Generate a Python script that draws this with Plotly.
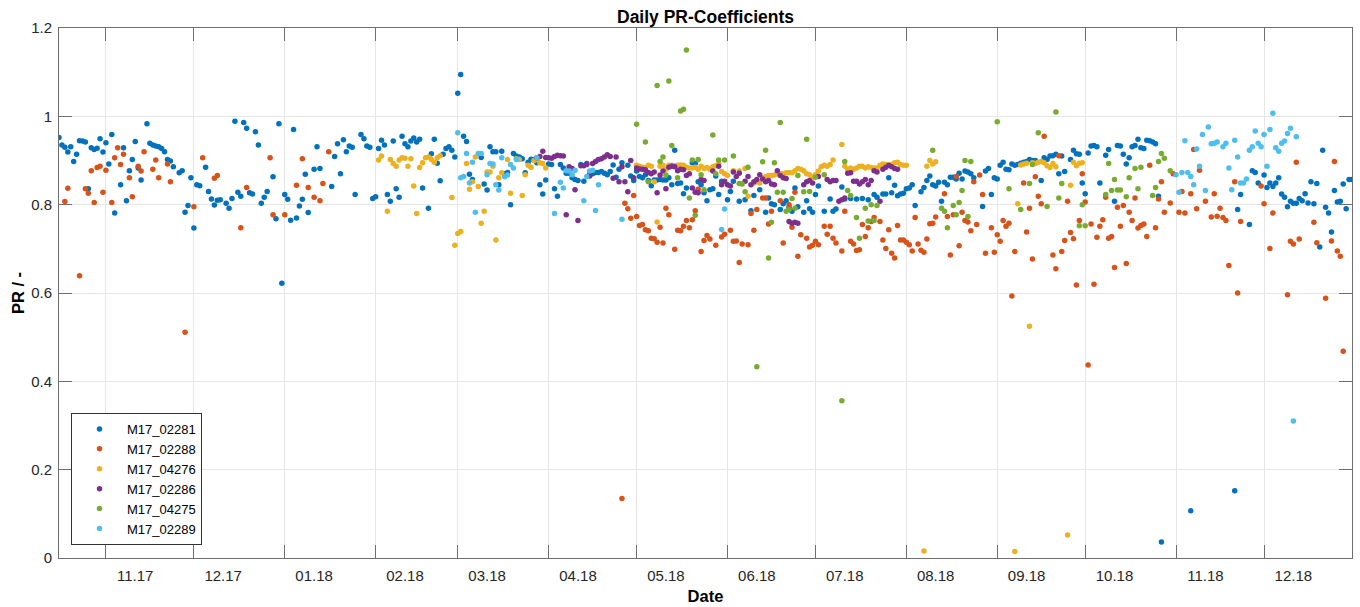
import pandas as pd
import plotly.graph_objects as go

# ---------------- data ----------------
START_DATE = "2017-10-16"          # day 0 of the day offsets below
X_RANGE = ["2017-10-16", "2018-12-31"]
TICK_LABELS = ["11.17", "12.17", "01.18", "02.18", "03.18", "04.18", "05.18",
               "06.18", "07.18", "08.18", "09.18", "10.18", "11.18", "12.18"]
SERIES_NAMES = ["M17_02281", "M17_02288", "M17_04276", "M17_02286", "M17_04275", "M17_02289"]
COLORS = ["#0072BD", "#D95319", "#EDB120", "#7E2F8E", "#77AC30", "#4DBEEE"]

# (day offset from START_DATE, PR value)
M17_02281 = [
    (0, 0.952), (1, 0.935), (2, 0.930), (3, 0.919), (4, 0.931), (5, 0.898), (6, 0.914), (7, 0.945),
    (8, 0.944), (9, 0.942), (10, 0.836), (11, 0.929), (12, 0.925), (13, 0.928), (14, 0.949), (15, 0.919),
    (16, 0.940), (17, 0.892), (18, 0.959), (19, 0.781), (21, 0.845), (22, 0.929), (23, 0.809), (24, 0.877),
    (25, 0.902), (26, 0.943), (27, 0.883), (28, 0.856), (30, 0.983), (31, 0.939), (32, 0.935), (33, 0.933),
    (34, 0.931), (35, 0.927), (36, 0.920), (37, 0.902), (38, 0.899), (39, 0.886), (41, 0.872), (42, 0.877),
    (43, 0.783), (44, 0.798), (45, 0.861), (46, 0.747), (47, 0.845), (48, 0.843), (50, 0.885), (51, 0.830),
    (52, 0.813), (53, 0.799), (54, 0.810), (55, 0.811), (57, 0.803), (58, 0.792), (59, 0.814), (60, 0.989),
    (61, 0.828), (62, 0.819), (63, 0.986), (64, 0.973), (65, 0.827), (66, 0.824), (67, 0.965), (68, 0.935),
    (69, 0.803), (70, 0.817), (71, 0.830), (73, 0.863), (74, 0.768), (75, 0.983), (76, 0.622), (77, 0.823),
    (78, 0.812), (79, 0.765), (80, 0.970), (81, 0.770), (82, 0.797), (83, 0.812), (84, 0.869), (85, 0.782),
    (87, 0.880), (88, 0.931), (89, 0.882), (93, 0.841), (94, 0.909), (95, 0.938), (96, 0.870), (97, 0.947),
    (98, 0.920), (99, 0.933), (100, 0.930), (101, 0.823), (103, 0.959), (104, 0.949), (105, 0.933),
    (106, 0.930), (107, 0.814), (108, 0.818), (109, 0.927), (110, 0.946), (111, 0.935), (112, 0.823),
    (113, 0.808), (114, 0.944), (115, 0.836), (116, 0.817), (117, 0.955), (118, 0.938), (119, 0.931),
    (120, 0.944), (121, 0.951), (122, 0.942), (123, 0.948), (124, 0.838), (126, 0.792), (127, 0.915),
    (128, 0.948), (129, 0.894), (130, 0.854), (131, 0.914), (132, 0.927), (133, 0.931), (134, 0.923),
    (135, 0.908), (136, 1.052), (137, 1.095), (138, 0.955), (139, 0.943), (140, 0.869), (141, 0.857),
    (144, 0.907), (145, 0.847), (146, 0.833), (147, 0.931), (148, 0.920), (149, 0.920), (150, 0.845),
    (151, 0.921), (152, 0.870), (153, 0.873), (154, 0.800), (155, 0.916), (156, 0.910), (157, 0.908),
    (158, 0.904), (159, 0.872), (160, 0.896), (161, 0.903), (162, 0.902), (163, 0.895), (164, 0.845),
    (165, 0.824), (166, 0.856), (167, 0.892), (168, 0.891), (169, 0.836), (170, 0.819), (171, 0.891),
    (172, 0.883), (173, 0.871), (174, 0.871), (175, 0.861), (176, 0.857), (177, 0.855), (178, 0.891),
    (179, 0.853), (180, 0.893), (181, 0.870), (182, 0.870), (183, 0.873), (184, 0.873), (185, 0.875),
    (186, 0.871), (187, 0.868), (188, 0.875), (189, 0.890), (190, 0.862), (191, 0.880), (192, 0.895),
    (194, 0.889), (195, 0.865), (196, 0.855), (197, 0.876), (198, 0.864), (199, 0.861), (200, 0.868),
    (201, 0.855), (202, 0.843), (203, 0.856), (204, 0.856), (205, 0.857), (206, 0.856), (207, 0.856),
    (208, 0.861), (209, 0.845), (210, 0.923), (211, 0.848), (212, 0.849), (213, 0.825), (214, 0.838),
    (216, 0.895), (217, 0.893), (218, 0.852), (219, 0.845), (220, 0.827), (221, 0.809), (222, 0.834),
    (223, 0.836), (224, 0.865), (225, 0.823), (226, 0.853), (228, 0.811), (229, 0.830), (230, 0.853),
    (232, 0.808), (234, 0.811), (236, 0.786), (237, 0.821), (239, 0.834), (241, 0.783), (242, 0.815),
    (243, 0.802), (244, 0.800), (246, 0.789), (247, 0.802), (248, 0.809), (249, 0.794), (250, 0.785),
    (251, 0.838), (252, 0.795), (254, 0.783), (255, 0.809), (256, 0.791), (257, 0.783), (258, 0.823),
    (259, 0.842), (261, 0.785), (263, 0.813), (264, 0.785), (265, 0.790), (267, 0.840), (268, 0.813),
    (270, 0.814), (272, 0.813), (274, 0.814), (276, 0.811), (278, 0.823), (279, 0.817), (281, 0.824),
    (282, 0.824), (283, 0.861), (284, 0.827), (285, 0.844), (286, 0.820), (287, 0.824), (288, 0.826),
    (289, 0.836), (290, 0.838), (291, 0.845), (292, 0.798), (294, 0.829), (295, 0.839), (296, 0.855),
    (297, 0.865), (298, 0.845), (299, 0.842), (300, 0.851), (301, 0.808), (302, 0.851), (303, 0.845),
    (304, 0.862), (305, 0.862), (306, 0.858), (307, 0.871), (308, 0.858), (309, 0.876), (310, 0.874),
    (311, 0.870), (312, 0.861), (315, 0.796), (316, 0.876), (317, 0.882), (318, 0.823), (319, 0.861),
    (320, 0.858), (321, 0.889), (322, 0.896), (323, 0.880), (324, 0.879), (325, 0.892), (326, 0.889),
    (327, 0.891), (328, 0.894), (329, 0.896), (330, 0.898), (331, 0.902), (332, 0.900), (333, 0.900),
    (335, 0.855), (336, 0.906), (337, 0.902), (338, 0.910), (339, 0.911), (340, 0.914), (341, 0.870),
    (342, 0.910), (343, 0.875), (345, 0.902), (346, 0.923), (347, 0.915), (348, 0.914), (349, 0.849),
    (350, 0.825), (351, 0.917), (352, 0.933), (353, 0.934), (354, 0.931), (355, 0.849), (357, 0.912),
    (358, 0.925), (360, 0.808), (361, 0.934), (362, 0.933), (363, 0.914), (364, 0.892), (365, 0.906),
    (366, 0.931), (367, 0.934), (368, 0.948), (369, 0.929), (370, 0.927), (371, 0.946), (372, 0.945),
    (373, 0.942), (374, 0.938), (375, 0.819), (376, 0.036), (386, 0.107), (401, 0.152), (402, 0.789),
    (403, 0.823), (406, 0.755), (407, 0.877), (408, 0.873), (409, 0.849), (411, 0.867), (412, 0.839),
    (413, 0.849), (414, 0.841), (415, 0.849), (416, 0.861), (417, 0.824), (418, 0.817), (419, 0.795),
    (420, 0.808), (421, 0.803), (422, 0.803), (423, 0.814), (424, 0.809), (425, 0.825), (426, 0.804),
    (427, 0.852), (428, 0.802), (429, 0.848), (430, 0.704), (431, 0.923), (432, 0.794), (433, 0.781),
    (434, 0.738), (435, 0.832), (436, 0.806), (437, 0.808), (438, 0.847), (439, 0.791), (440, 0.857),
    (441, 0.857),
]

M17_02288 = [
    (2, 0.807), (3, 0.837), (7, 0.639), (9, 0.836), (10, 0.826), (11, 0.877), (12, 0.805), (13, 0.884),
    (14, 0.887), (15, 0.828), (16, 0.878), (18, 0.805), (19, 0.906), (20, 0.929), (21, 0.891), (22, 0.914),
    (24, 0.861), (25, 0.818), (27, 0.887), (28, 0.876), (29, 0.920), (32, 0.880), (33, 0.901), (34, 0.861),
    (37, 0.892), (38, 0.852), (43, 0.511), (46, 0.795), (49, 0.906), (53, 0.860), (54, 0.866), (62, 0.748),
    (64, 0.839), (72, 0.906), (73, 0.777), (77, 0.777), (81, 0.844), (83, 0.904), (85, 0.839), (87, 0.817),
    (89, 0.809), (90, 0.848), (92, 0.920), (192, 0.135),
    (193, 0.803), (194, 0.791), (195, 0.769), (196, 0.821), (197, 0.773), (198, 0.753), (199, 0.755),
    (200, 0.743), (201, 0.741), (202, 0.724), (203, 0.723), (204, 0.715), (205, 0.749), (206, 0.713),
    (207, 0.792), (208, 0.777), (210, 0.699), (211, 0.742), (212, 0.741), (213, 0.751), (214, 0.764),
    (215, 0.748), (216, 0.766), (217, 0.786), (218, 0.835), (219, 0.694), (220, 0.719), (221, 0.730),
    (222, 0.722), (224, 0.708), (226, 0.727), (227, 0.733), (229, 0.742), (230, 0.717), (231, 0.718),
    (232, 0.669), (233, 0.711), (235, 0.709), (236, 0.780), (237, 0.742), (238, 0.789), (240, 0.815),
    (241, 0.815), (242, 0.756), (243, 0.785), (246, 0.809), (247, 0.713), (249, 0.800), (250, 0.749),
    (251, 0.828), (252, 0.683), (253, 0.732), (255, 0.724), (256, 0.704), (257, 0.708), (258, 0.717),
    (259, 0.709), (261, 0.751), (262, 0.733), (263, 0.751), (264, 0.724), (265, 0.713), (267, 0.695),
    (268, 0.785), (270, 0.717), (271, 0.711), (272, 0.696), (273, 0.698), (274, 0.755), (275, 0.728),
    (276, 0.748), (277, 0.762), (278, 0.771), (280, 0.762), (281, 0.720), (282, 0.701), (283, 0.743),
    (284, 0.690), (285, 0.679), (286, 0.753), (287, 0.720), (288, 0.720), (289, 0.715), (290, 0.709),
    (291, 0.695), (292, 0.771), (293, 0.711), (294, 0.697), (295, 0.692), (296, 0.722), (297, 0.757),
    (298, 0.758), (299, 0.772), (302, 0.825), (303, 0.773), (304, 0.686), (305, 0.777), (306, 0.864),
    (307, 0.707), (308, 0.783), (309, 0.764), (310, 0.761), (311, 0.741), (312, 0.852), (313, 0.755),
    (314, 0.867), (315, 0.823), (316, 0.690), (318, 0.748), (319, 0.692), (320, 0.732), (321, 0.717),
    (322, 0.764), (323, 0.751), (324, 0.758), (325, 0.593), (326, 0.694), (329, 0.849), (330, 0.738),
    (331, 0.792), (332, 0.677), (333, 0.863), (334, 0.819), (335, 0.802), (336, 0.955), (339, 0.686),
    (340, 0.655), (341, 0.911), (342, 0.694), (343, 0.719), (344, 0.808), (345, 0.737), (346, 0.723),
    (347, 0.618), (348, 0.764), (349, 0.870), (350, 0.806), (351, 0.437), (352, 0.756), (353, 0.620),
    (354, 0.726), (355, 0.751), (356, 0.766), (357, 0.817), (358, 0.724), (359, 0.728), (360, 0.658),
    (361, 0.794), (362, 0.751), (363, 0.798), (364, 0.667), (365, 0.783), (366, 0.764), (367, 0.815),
    (368, 0.747), (369, 0.753), (370, 0.756), (371, 0.728), (372, 0.889), (374, 0.748), (375, 0.813),
    (376, 0.852), (377, 0.783), (379, 0.804), (380, 0.870), (382, 0.783), (383, 0.830), (384, 0.781),
    (386, 0.825), (387, 0.925), (388, 0.791), (389, 0.878), (391, 0.808), (393, 0.772), (394, 0.825),
    (395, 0.774), (396, 0.792), (397, 0.771), (398, 0.764), (399, 0.662), (401, 0.852), (402, 0.600),
    (403, 0.762), (410, 0.842), (411, 0.802), (413, 0.701), (414, 0.781), (419, 0.596), (420, 0.717),
    (421, 0.711), (422, 0.896), (423, 0.722), (428, 0.760), (429, 0.714), (432, 0.588), (434, 0.718),
    (435, 0.898), (436, 0.695), (437, 0.683), (438, 0.468),
]

M17_04276 = [
    (109, 0.901), (110, 0.910), (112, 0.785), (113, 0.902), (114, 0.893), (115, 0.887), (116, 0.901),
    (117, 0.906), (118, 0.905), (119, 0.887), (120, 0.904), (121, 0.842), (122, 0.780), (123, 0.884),
    (124, 0.895), (125, 0.906), (126, 0.908), (127, 0.902), (128, 0.896), (129, 0.906), (130, 0.911),
    (134, 0.816), (135, 0.708), (136, 0.735), (137, 0.739), (139, 0.893), (140, 0.835), (141, 0.852),
    (142, 0.908), (143, 0.841), (144, 0.758), (145, 0.785), (146, 0.874), (147, 0.874), (148, 0.887),
    (149, 0.720), (150, 0.861), (151, 0.872), (153, 0.902), (154, 0.826), (156, 0.904), (157, 0.902),
    (158, 0.821), (159, 0.868), (160, 0.889), (161, 0.885), (162, 0.900), (163, 0.902), (164, 0.895),
    (165, 0.893), (166, 0.883),
    (197, 0.889), (198, 0.887), (199, 0.885), (200, 0.884), (201, 0.889), (202, 0.887), (203, 0.852),
    (204, 0.761), (205, 0.887), (206, 0.889), (207, 0.880), (208, 0.889), (209, 0.889), (210, 0.888),
    (211, 0.889), (212, 0.890), (213, 0.889), (214, 0.885), (215, 0.883), (216, 0.883), (217, 0.885),
    (218, 0.880), (219, 0.887), (220, 0.882), (221, 0.884), (222, 0.880), (223, 0.886), (224, 0.888),
    (225, 0.893), (226, 0.875), (227, 0.870), (228, 0.866), (230, 0.877), (232, 0.876), (234, 0.882),
    (235, 0.819), (237, 0.849), (238, 0.852), (239, 0.849), (240, 0.861), (241, 0.863), (242, 0.866),
    (243, 0.866), (244, 0.867), (245, 0.870), (246, 0.870), (247, 0.870), (248, 0.872), (249, 0.873),
    (250, 0.872), (251, 0.877), (252, 0.882), (253, 0.880), (254, 0.877), (255, 0.870), (256, 0.868),
    (257, 0.862), (258, 0.868), (259, 0.876), (260, 0.886), (261, 0.889), (262, 0.887), (263, 0.891),
    (264, 0.901), (267, 0.936), (268, 0.887), (269, 0.880), (270, 0.883), (271, 0.880), (272, 0.883),
    (273, 0.887), (274, 0.887), (275, 0.883), (276, 0.886), (277, 0.884), (278, 0.883), (279, 0.883),
    (280, 0.889), (281, 0.892), (282, 0.891), (283, 0.889), (284, 0.891), (285, 0.895), (286, 0.896),
    (287, 0.891), (288, 0.889), (289, 0.889), (295, 0.016), (296, 0.887), (297, 0.900), (298, 0.892),
    (299, 0.897), (326, 0.015), (327, 0.802), (328, 0.890), (329, 0.892), (330, 0.894), (331, 0.525),
    (332, 0.895), (333, 0.893), (334, 0.896), (335, 0.898), (336, 0.895), (337, 0.888), (338, 0.884),
    (339, 0.893), (340, 0.886), (344, 0.052), (345, 0.844), (346, 0.896), (347, 0.888), (348, 0.894),
    (349, 0.895),
]

M17_02286 = [
    (163, 0.906), (164, 0.909), (165, 0.921), (166, 0.907), (167, 0.906), (168, 0.905), (169, 0.909),
    (170, 0.912), (171, 0.911), (172, 0.910), (173, 0.777), (174, 0.886), (175, 0.882), (176, 0.834),
    (177, 0.764), (178, 0.888), (179, 0.888), (180, 0.891), (181, 0.865), (182, 0.893), (183, 0.898),
    (184, 0.902), (185, 0.904), (186, 0.908), (187, 0.913), (188, 0.909), (189, 0.860), (190, 0.908),
    (191, 0.852), (192, 0.886), (193, 0.852), (194, 0.829), (195, 0.900), (196, 0.861), (197, 0.883),
    (198, 0.881), (199, 0.880), (200, 0.879), (201, 0.873), (202, 0.870), (203, 0.874), (204, 0.827),
    (205, 0.867), (206, 0.876), (207, 0.836), (208, 0.885), (209, 0.887), (210, 0.886), (211, 0.877),
    (212, 0.880), (213, 0.879), (214, 0.866), (215, 0.870), (216, 0.838), (217, 0.828), (218, 0.827),
    (219, 0.857), (220, 0.855), (223, 0.876), (225, 0.887), (226, 0.845), (227, 0.853), (228, 0.845),
    (229, 0.842), (230, 0.874), (231, 0.864), (232, 0.871), (234, 0.853), (235, 0.864), (236, 0.845),
    (237, 0.852), (238, 0.857), (239, 0.868), (240, 0.858), (241, 0.852), (242, 0.855), (243, 0.847),
    (244, 0.845), (245, 0.877), (246, 0.866), (247, 0.861), (248, 0.859), (249, 0.762), (250, 0.758),
    (251, 0.760), (252, 0.758), (254, 0.845), (255, 0.852), (256, 0.855), (257, 0.849), (259, 0.864),
    (262, 0.857), (263, 0.852), (264, 0.855), (265, 0.855), (266, 0.808), (267, 0.811), (268, 0.815),
    (269, 0.871), (270, 0.872), (271, 0.853), (272, 0.853), (273, 0.847), (274, 0.852), (275, 0.857),
    (276, 0.845), (277, 0.855), (278, 0.877), (279, 0.874), (280, 0.808), (281, 0.880), (282, 0.885),
    (283, 0.889), (284, 0.886), (285, 0.882), (286, 0.880),
]

M17_04275 = [
    (197, 0.982), (200, 0.942), (201, 0.852), (204, 1.070), (205, 0.898), (206, 0.908), (207, 0.867),
    (208, 1.080), (209, 0.934), (211, 0.861), (212, 1.012), (213, 1.016), (214, 1.150), (215, 0.815),
    (216, 0.901), (217, 0.776), (218, 0.902), (219, 0.868), (220, 0.834), (223, 0.958), (224, 0.870),
    (225, 0.901), (227, 0.901), (230, 0.910), (232, 0.848), (233, 0.847), (234, 0.829), (235, 0.885),
    (238, 0.433), (240, 0.897), (241, 0.923), (242, 0.679), (243, 0.760), (244, 0.895), (245, 0.828),
    (246, 0.986), (247, 0.828), (248, 0.785), (249, 0.789), (250, 0.814), (251, 0.792), (252, 0.866),
    (254, 0.829), (255, 0.948), (256, 0.830), (258, 0.862), (261, 0.868), (267, 0.356), (268, 0.898),
    (269, 0.832), (270, 0.821), (272, 0.771), (273, 0.724), (275, 0.792), (276, 0.763), (277, 0.800),
    (278, 0.764), (279, 0.798), (298, 0.923), (301, 0.792), (302, 0.785), (303, 0.748), (305, 0.798),
    (306, 0.777), (307, 0.805), (308, 0.832), (309, 0.900), (310, 0.773), (311, 0.898), (320, 0.988),
    (324, 0.836), (328, 0.789), (331, 0.848), (332, 0.891), (334, 0.963), (337, 0.796), (340, 1.010),
    (341, 0.815), (342, 0.848), (348, 0.752), (349, 0.800), (350, 0.752), (357, 0.823), (358, 0.893),
    (359, 0.832), (360, 0.857), (361, 0.833), (362, 0.833), (364, 0.818), (365, 0.861), (367, 0.882),
    (368, 0.836), (369, 0.885), (373, 0.821), (374, 0.839), (375, 0.898), (376, 0.916), (377, 0.905),
    (379, 0.877),
]

M17_02289 = [
    (136, 0.963), (137, 0.861), (138, 0.864), (139, 0.916), (140, 0.849), (141, 0.896), (142, 0.783),
    (143, 0.916), (144, 0.916), (146, 0.868), (147, 0.893), (148, 0.892), (149, 0.845), (150, 0.833),
    (151, 0.906), (152, 0.863), (153, 0.867), (154, 0.891), (155, 0.883), (156, 0.902), (163, 0.906),
    (169, 0.780), (171, 0.851), (172, 0.838), (173, 0.877), (174, 0.876), (175, 0.868), (176, 0.878),
    (179, 0.809), (180, 0.864), (181, 0.876), (182, 0.878), (183, 0.787), (184, 0.845), (192, 0.767),
    (226, 0.744), (227, 0.790),
    (381, 0.868), (382, 0.828), (383, 0.873), (384, 0.945), (385, 0.873), (386, 0.864), (387, 0.845),
    (388, 0.926), (389, 0.887), (390, 0.959), (391, 0.832), (392, 0.976), (393, 0.938), (394, 0.939),
    (395, 0.942), (397, 0.931), (398, 0.939), (399, 0.883), (400, 0.834), (401, 0.946), (402, 0.908),
    (403, 0.849), (404, 0.849), (405, 0.858), (406, 0.923), (407, 0.931), (408, 0.967), (409, 0.939),
    (410, 0.931), (411, 0.959), (412, 0.887), (413, 0.970), (414, 1.007), (415, 0.929), (416, 0.921),
    (417, 0.939), (418, 0.944), (419, 0.961), (420, 0.973), (421, 0.310), (422, 0.954),
]

SERIES_DATA = [M17_02281, M17_02288, M17_04276, M17_02286, M17_04275, M17_02289]

# ---------------- figure ----------------
FONT = "Liberation Sans, Arial, Helvetica, sans-serif"
TEXT_COLOR = "#262626"
AXIS_COLOR = "#6e6e6e"
GRID_COLOR = "#e6e6e6"

start = pd.Timestamp(START_DATE)
month_starts = pd.date_range("2017-11-01", "2018-12-01", freq="MS")
label_pos = month_starts + pd.Timedelta(days=10)

fig = go.Figure()
for name, color, pairs in zip(SERIES_NAMES, COLORS, SERIES_DATA):
    days = [d for d, _ in pairs]
    vals = [v for _, v in pairs]
    dates = start + pd.to_timedelta(days, unit="D")
    fig.add_trace(go.Scatter(
        x=dates, y=vals, mode="markers", name=name,
        marker=dict(color=color, size=5.5, line=dict(width=0)),
    ))

fig.update_layout(
    width=1360, height=607,
    margin=dict(l=59, r=8, t=28, b=49, autoexpand=False),
    paper_bgcolor="white", plot_bgcolor="white",
    font=dict(family=FONT, color=TEXT_COLOR, size=15),
    title=dict(text="<b>Daily PR-Coefficients</b>", x=0.5, xref="paper", xanchor="center",
               y=1 - 17 / 607, yref="container", yanchor="middle",
               font=dict(size=17.5, color="#000000", family=FONT)),
    showlegend=True,
    legend=dict(x=0.0093, y=0.0245, xanchor="left", yanchor="bottom",
                bgcolor="white", bordercolor="#333333", borderwidth=1,
                font=dict(size=13, color="#000000", family=FONT),
                itemwidth=45, tracegroupgap=0),
)

fig.update_xaxes(
    type="date", range=X_RANGE,
    tickmode="array", tickvals=label_pos, ticktext=TICK_LABELS,
    ticks="", showgrid=False, ticklabelstandoff=4,
    tickfont=dict(size=15, color=TEXT_COLOR),
    showline=True, linecolor=AXIS_COLOR, linewidth=1, mirror="allticks",
    minor=dict(tickmode="array", tickvals=month_starts, ticks="inside", ticklen=13,
               tickcolor=AXIS_COLOR, tickwidth=1, showgrid=True,
               gridcolor=GRID_COLOR, gridwidth=1),
    title=dict(text="<b>Date</b>", font=dict(size=16.5, color="#000000"), standoff=7),
    zeroline=False,
)
fig.update_yaxes(
    range=[0, 1.2], tickmode="linear", tick0=0, dtick=0.2,
    ticks="inside", ticklen=13, tickcolor=AXIS_COLOR, tickwidth=1,
    ticklabelstandoff=3,
    tickfont=dict(size=15, color=TEXT_COLOR),
    showgrid=True, gridcolor=GRID_COLOR, gridwidth=1,
    showline=True, linecolor=AXIS_COLOR, linewidth=1, mirror="allticks",
    title=dict(text="<b>PR / -</b>", font=dict(size=16.5, color="#000000"), standoff=2),
    zeroline=False,
)

fig.write_html("out.html",
               config={"displayModeBar": False},
               post_script="document.body.style.margin='0';document.body.style.padding='0';")
